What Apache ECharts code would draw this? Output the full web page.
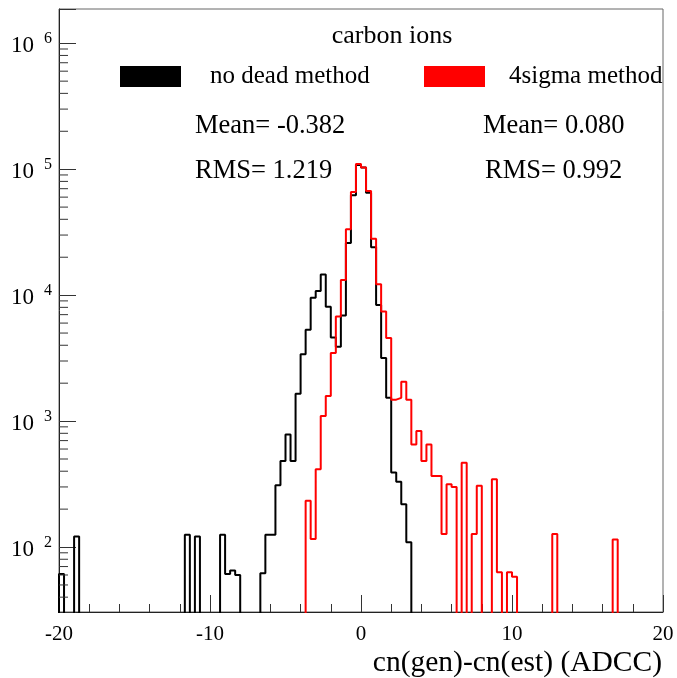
<!DOCTYPE html>
<html><head><meta charset="utf-8">
<script src="https://cdn.jsdelivr.net/npm/echarts@6/dist/echarts.min.js"></script>
<style>html,body{margin:0;padding:0;background:#fff}#c{width:677px;height:678px}</style>
</head><body><div id="c"></div>
<script>
// ---- data ----
const xMin = -20, xMax = 20, nBins = 120;           // bin width 1/3 ADCC
const seriesNames = ['no dead method', '4sigma method'];
const noDeadCounts = [
  61,0,0,121,0,0,0,0,0,0,
  0,0,0,0,0,0,0,0,0,0,
  0,0,0,0,0,125,0,121,0,0,
  0,0,125,61,65,60,0,0,0,0,
  62,125,125,310,483,784,483,1650,3400,5300,
  9550,10800,14600,8100,4600,3900,6900,26000,62000,108000,
  103000,65000,24000,8350,3170,1530,390,330,219,109,
  0,0,0,0,0,0,0,0,0,0,
  0,0,0,0,0,0,0,0,0,0,
  0,0,0,0,0,0,0,0,0,0,
  0,0,0,0,0,0,0,0,0,0,
  0,0,0,0,0,0,0,0,0,0
];
const sigma4Counts = [
  0,0,0,0,0,0,0,0,0,0,
  0,0,0,0,0,0,0,0,0,0,
  0,0,0,0,0,0,0,0,0,0,
  0,0,0,0,0,0,0,0,0,0,
  0,0,0,0,0,0,0,0,0,233,
  116,414,1100,1580,3470,6760,13200,33300,65800,110000,
  103000,67000,28000,12200,7400,4560,1480,1530,2050,1480,
  653,834,483,653,367,367,127,315,300,0,
  468,0,127,306,0,0,345,63,0,63,
  58,0,0,0,0,0,0,0,127,0,
  0,0,0,0,0,0,0,0,0,0,
  115,0,0,0,0,0,0,0,0,0
];
const statsNoDead = {mean: -0.382, rms: 1.219};
const stats4Sigma = {mean: 0.080, rms: 0.992};
const plotTitle = 'carbon ions';
const xTitle = 'cn(gen)-cn(est) (ADCC)';
const yMin = 30.5, yMax = 1.87e6;

// ---- build ----
const FONT = "'Liberation Serif','Times New Roman',serif";
const binW = (xMax - xMin) / nBins;
const FLOOR = 1; // empty bins drawn below the frame (clipped)
function stepData(counts) {
  const pts = [[xMin, FLOOR]];
  counts.forEach((c, k) => pts.push([xMin + k * binW, c > 0 ? c : FLOOR]));
  const last = counts[counts.length - 1];
  pts.push([xMax, last > 0 ? last : FLOOR]);
  return pts;
}
const minorVals = [];
for (let e = 1; e <= 6; e++) for (let m = 2; m <= 9; m++) {
  const v = m * Math.pow(10, e);
  if (v > yMin && v < yMax) minorVals.push([xMin, v]);
}
function fmtStat(label, v) { return label + '= ' + v.toFixed(3); }
const statStyle = {fontFamily: FONT, fontSize: 26.5, fontWeight: 'normal', color: '#000'};

const chart = echarts.init(document.getElementById('c'), null, {renderer: 'canvas'});
chart.setOption({
  animation: false,
  backgroundColor: '#fff',
  grid: {left: 59, right: 14, top: 9, bottom: 63, show: true, borderColor: '#666', borderWidth: 1},
  title: [
    {text: plotTitle, left: 392, top: 23, textAlign: 'center', padding: 0,
     textStyle: {fontFamily: FONT, fontSize: 26, fontWeight: 'normal', color: '#000'}},
    {text: fmtStat('Mean', statsNoDead.mean), left: 195, top: 113, padding: 0, textStyle: statStyle},
    {text: fmtStat('RMS', statsNoDead.rms), left: 195, top: 158, padding: 0, textStyle: statStyle},
    {text: fmtStat('Mean', stats4Sigma.mean), left: 483, top: 113, padding: 0, textStyle: statStyle},
    {text: fmtStat('RMS', stats4Sigma.rms), left: 485, top: 158, padding: 0, textStyle: statStyle}
  ],
  legend: [
    {data: [seriesNames[0]], left: 120, top: 64, padding: 0, icon: 'rect', itemWidth: 61, itemHeight: 21,
     selectedMode: false, textStyle: {fontFamily: FONT, fontSize: 25, color: '#000', padding: [0,0,0,24]}},
    {data: [seriesNames[1]], left: 424, top: 64, padding: 0, icon: 'rect', itemWidth: 61, itemHeight: 21,
     selectedMode: false, textStyle: {fontFamily: FONT, fontSize: 25, color: '#000', padding: [0,0,0,19]}}
  ],
  xAxis: {
    type: 'value', min: xMin, max: xMax, interval: 10,
    name: xTitle, nameLocation: 'end', nameGap: 0,
    nameTextStyle: {fontFamily: FONT, fontSize: 29.5, color: '#000', align: 'right', verticalAlign: 'top', padding: [36, 1, 0, 0]},
    axisLine: {onZero: false, lineStyle: {color: '#222', width: 1}},
    axisTick: {inside: true, length: 17, lineStyle: {color: '#333'}},
    minorTick: {show: true, splitNumber: 5, length: 8, lineStyle: {color: '#333'}},
    splitLine: {show: false},
    axisLabel: {fontFamily: FONT, fontSize: 21, color: '#000', margin: 12,
      formatter: v => String(v)}
  },
  yAxis: {
    type: 'log', logBase: 10, min: yMin, max: yMax,
    axisLine: {show: true, onZero: false, lineStyle: {color: '#222', width: 1}},
    axisTick: {inside: true, length: 17, lineStyle: {color: '#333'}},
    splitLine: {show: false},
    axisLabel: {
      margin: 7, color: '#000',
      formatter: function (v) {
        const e = Math.log10(v);
        if (Math.abs(e - Math.round(e)) > 1e-6) return '';
        return '{b|10}{s|' + Math.round(e) + '}';
      },
      rich: {
        b: {fontFamily: FONT, fontSize: 23, lineHeight: 24, padding: [6, 0, 0, 0], color: '#000'},
        s: {fontFamily: FONT, fontSize: 16, lineHeight: 16, verticalAlign: 'top', padding: [0, 0, 0, 10], color: '#000'}
      }
    }
  },
  series: [
    {name: seriesNames[0], type: 'line', step: 'end', data: stepData(noDeadCounts), showSymbol: false, symbol: 'none',
     clip: true, color: '#000', lineStyle: {color: '#000', width: 2}, itemStyle: {color: '#000'}, z: 2},
    {name: seriesNames[1], type: 'line', step: 'end', data: stepData(sigma4Counts), showSymbol: false, symbol: 'none',
     clip: true, color: '#ff0000', lineStyle: {color: '#ff0000', width: 2}, itemStyle: {color: '#ff0000'}, z: 3},
    {type: 'custom', data: minorVals, silent: true, z: 4,
     renderItem: function (params, api) {
       const p = api.coord([api.value(0), api.value(1)]);
       return {type: 'line', shape: {x1: p[0], y1: p[1], x2: p[0] + 9, y2: p[1]},
               style: {stroke: '#333', lineWidth: 1}};
     }}
  ]
});
</script>
</body></html>
